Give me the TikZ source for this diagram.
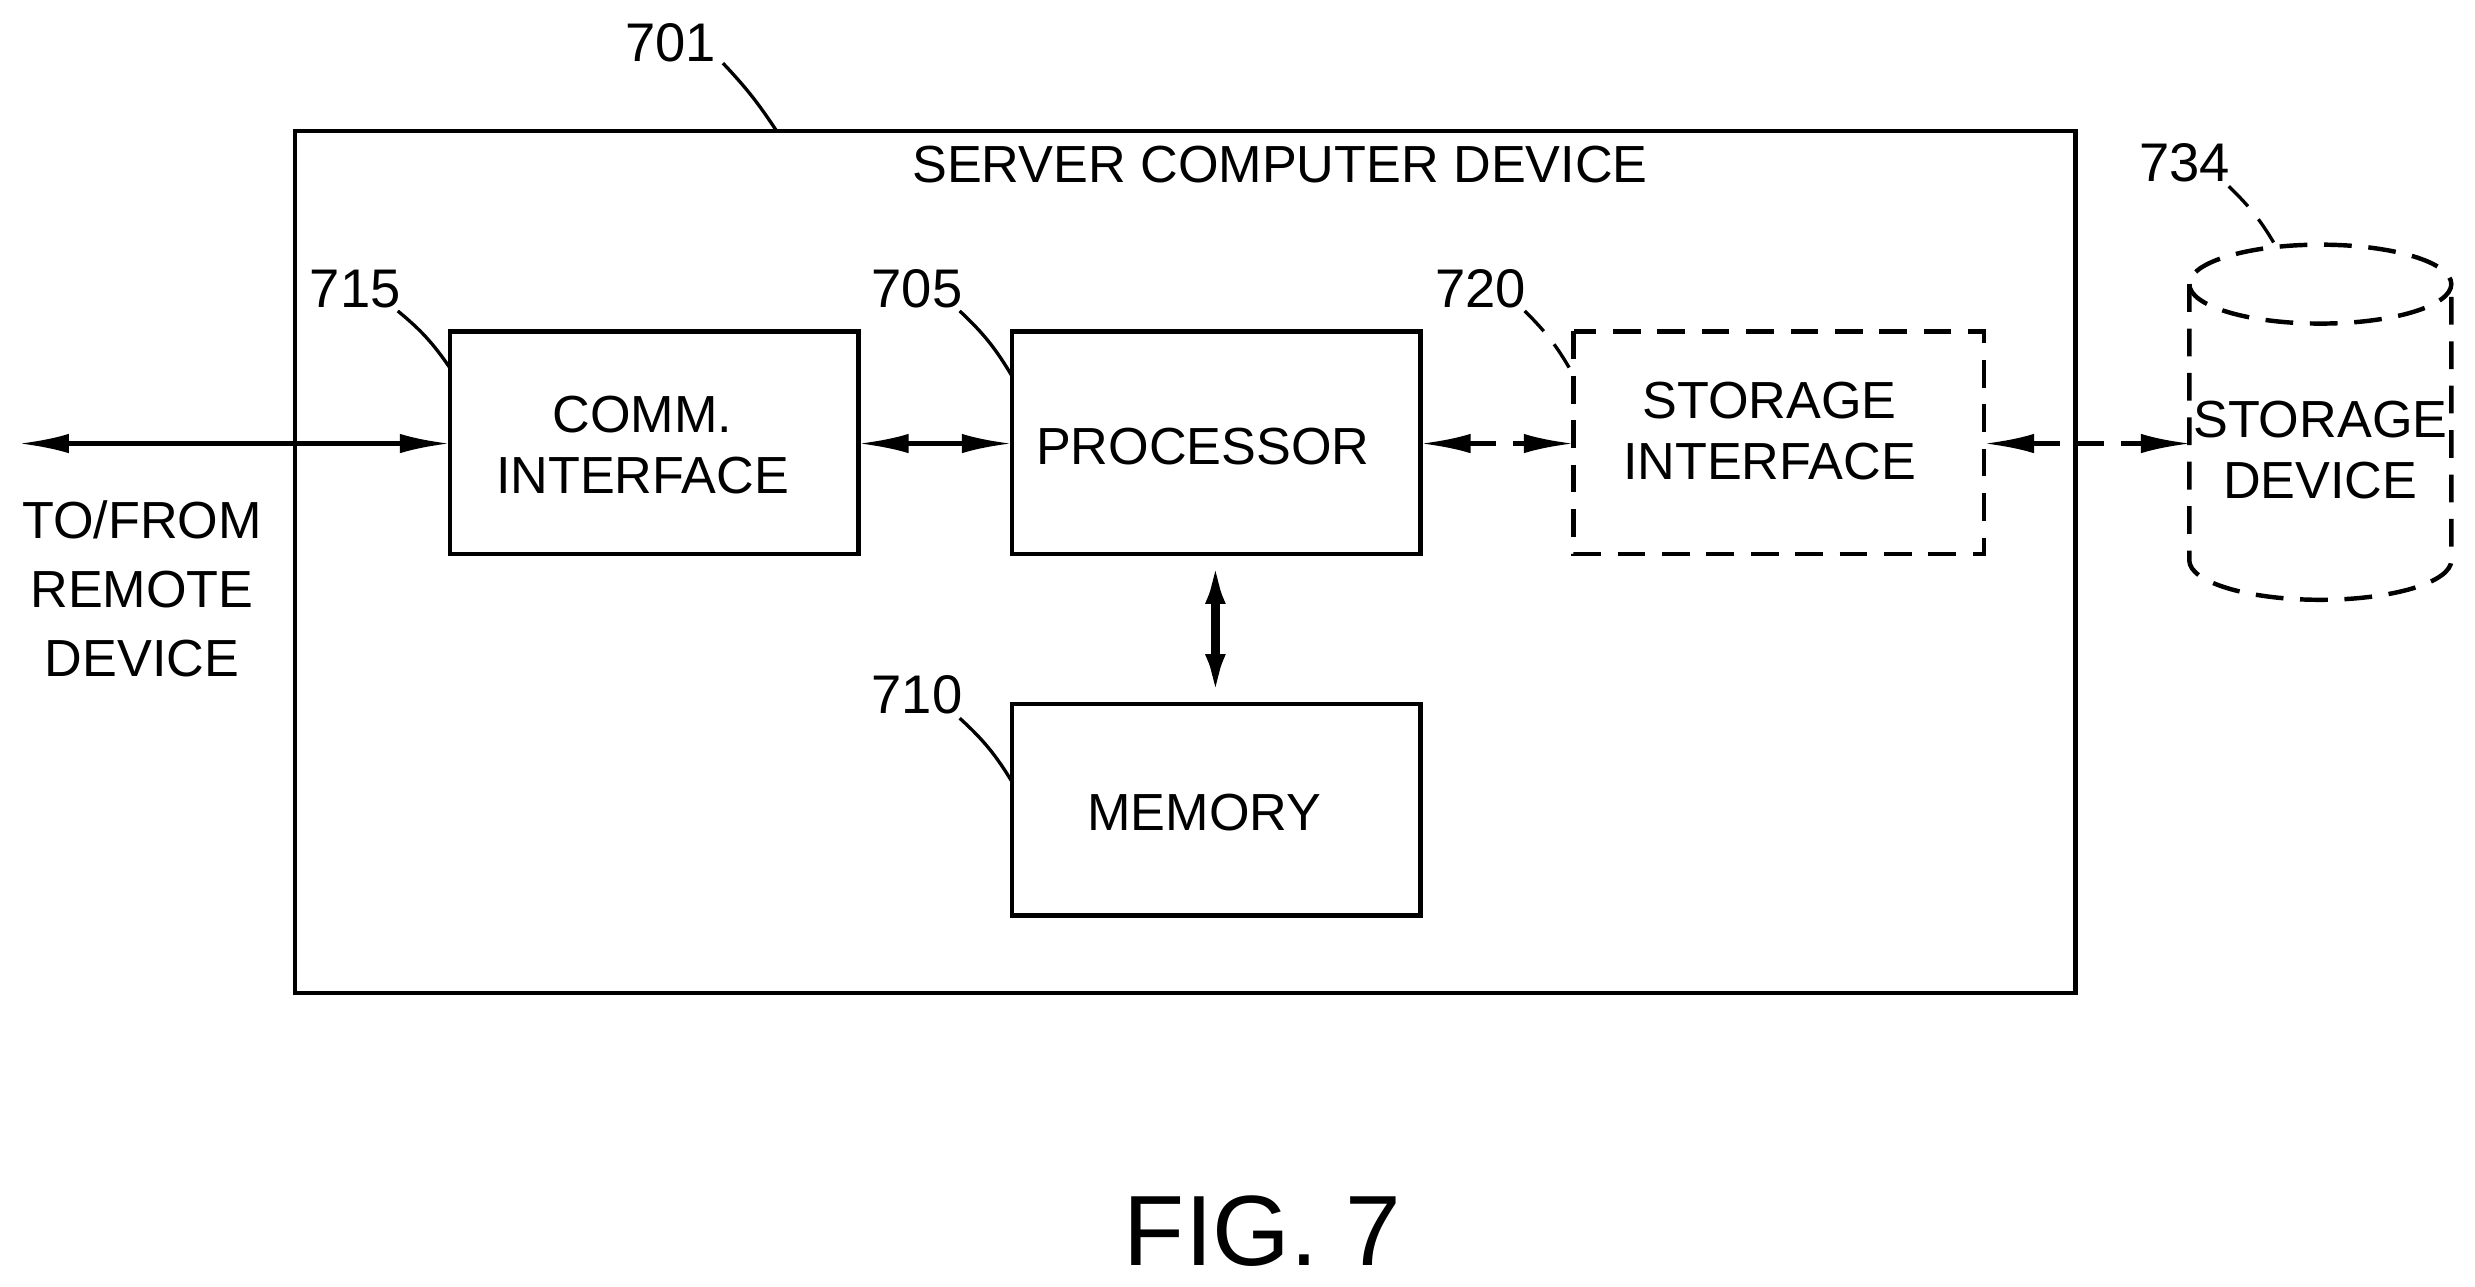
\documentclass[tikz,border=0pt]{standalone}
\usepackage{fontspec}
\setmainfont{Liberation Sans}
\usetikzlibrary{arrows.meta}
\begin{document}
\begin{tikzpicture}[x=0.01cm,y=-0.01cm,
  box/.style={draw,line width=0.8pt},
  lbl/.style={font=\fontsize{9.4}{11}\selectfont,align=center},
  num/.style={font=\fontsize{9.8}{11}\selectfont},
  arr/.style={line width=0.8pt,{Latex[length=9pt,width=3.5pt]}-{Latex[length=9pt,width=3.5pt]}},
  dsh/.style={dash pattern=on 5pt off 3pt},
  lead/.style={line width=0.6pt}]
\useasboundingbox (0,0) rectangle (1568,815);
\draw[box] (187,83) rectangle (1315,629);
\node[lbl] (title) at (811,104) {SERVER COMPUTER DEVICE};
\node[num] (n701) at (425,27) {701};
\draw[lead] (458,40) to[bend left=5] (492,83);
% boxes
\draw[box] (285,210) rectangle (544,351);
\coordinate (commW) at (285,281); \coordinate (commE) at (544,281);
\node[lbl] (commt) at (407,282) {COMM.\\INTERFACE};
\draw[box] (641,210) rectangle (900,351);
\coordinate (procW) at (641,281); \coordinate (procE) at (900,281);
\coordinate (procS) at (770,351);
\node[lbl] (proct) at (762,283) {PROCESSOR};
\draw[box,dsh] (997,210) rectangle (1257,351);
\coordinate (siW) at (997,281); \coordinate (siE) at (1257,281);
\node[lbl] (sit) at (1121,273) {STORAGE\\INTERFACE};
\draw[box] (641,446) rectangle (900,580);
\coordinate (memN) at (770,446);
\node[lbl] (memt) at (763,515) {MEMORY};
% cylinder
\draw[box,dsh] (1387,180) arc[start angle=180,end angle=-180,x radius=83,y radius=25];
\draw[box,dsh] (1387,180) -- (1387,355) arc[start angle=180,end angle=0,x radius=83,y radius=25] -- (1553,180);
\coordinate (cylW) at (1388,281);
\node[lbl] (sdt) at (1470,285) {STORAGE\\DEVICE};
% labels
\node[num] (n715) at (225,183) {715};
\draw[lead] (252,197) to[bend left=8] (285,233);
\node[num] (n705) at (581,183) {705};
\draw[lead] (608,197) to[bend left=8] (641,238);
\node[num] (n720) at (938,183) {720};
\draw[lead,dsh] (966,197) to[bend left=8] (997,238);
\node[num] (n710) at (581,440) {710};
\draw[lead] (608,455) to[bend left=8] (641,495);
\node[num] (n734) at (1384,103) {734};
\draw[lead,dsh] (1412,118) to[bend left=8] (1443,158);
% connectors
\coordinate (remote) at (12,281);
\draw[arr] (remote) -- (commW);
\draw[arr] (commE) -- (procW);
\draw[arr,dsh] (procE) -- (siW);
\draw[arr,dsh] (siE) -- (cylW);
\draw[arr,line width=1.6pt] (procS) -- (memN);
\node[lbl,font=\fontsize{9.4}{12.5}\selectfont] (tofrom) at (90,373) {TO/FROM\\REMOTE\\DEVICE};
\node[font=\fontsize{18}{20}\selectfont] (fig) at (800,780) {FIG. 7};
\end{tikzpicture}
\end{document}
